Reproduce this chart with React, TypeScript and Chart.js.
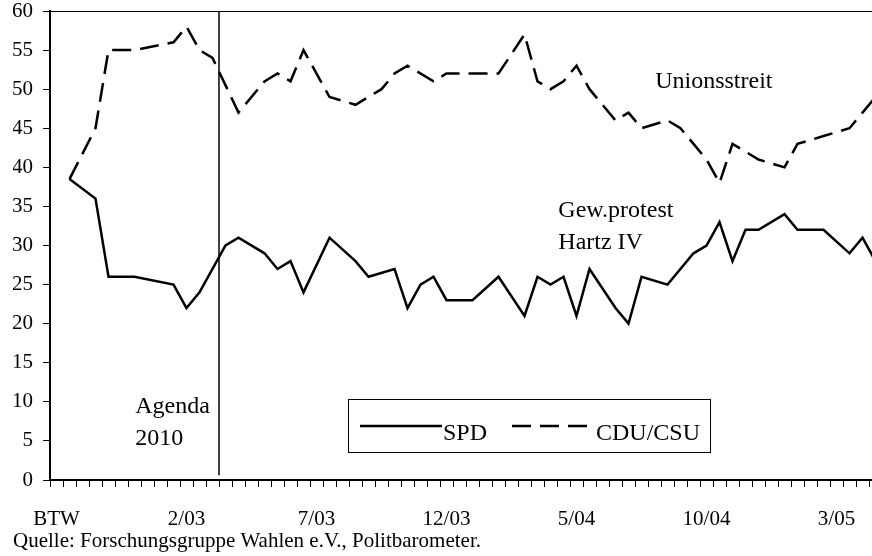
import React, { useEffect, useRef } from "react";
import { Chart, registerables } from "chart.js";

Chart.register(...registerables);

const FONT = "'Liberation Serif', 'Times New Roman', Times, serif";

// One category per poll month; index 0 = BTW (Sept. 2002)
const categoryCount = 64;
const xLabelEvery = 10;
const xTickLabels = ["BTW", "2/03", "7/03", "12/03", "5/04", "10/04", "3/05"];
const yMin = 0;
const yMax = 60;
const yStep = 5;
const visibleCategories = 63.23;

const spdValues: (number | null)[] = [
  null, 38.5, null, 36, 26, null, 26, null, null, 25,
  22, 24, null, 30, 31, null, 29, 27, 28, 24,
  null, 31, null, 28, 26, null, 27, 22, 25, 26,
  23, null, 23, null, 26, null, 21, 26, 25, 26,
  21, 27, null, 22, 20, 26, null, 25, null, 29,
  30, 33, 28, 32, 32, null, 34, 32, null, 32,
  null, 29, 31, 28,
];

const cduValues: (number | null)[] = [
  null, 38.5, null, 45, 55, null, 55, null, null, 56,
  58, 55, 54, null, 47, null, 51, 52, 51, 55,
  null, 49, null, 48, 49, 50, 52, 53, null, 51,
  52, 52, 52, 52, 52, null, 57, 51, 50, 51,
  53, 50, 48, 46, 47, 45, null, 46, 45, 43,
  41, 38, 43, 42, 41, null, 40, 43, null, 44,
  null, 45, 47, 49,
];

const seriesNames = ["SPD", "CDU/CSU"];
const sourceText = "Quelle: Forschungsgruppe Wahlen e.V., Politbarometer.";

// Agenda 2010 marker (on a month boundary) and text notes, in axis units
const agendaMarker = 13;
const agendaLineEnd = 0.6;
const notes = [
  { text: "Agenda", x: 6.55, y: 8.57 },
  { text: "2010", x: 6.55, y: 4.48 },
  { text: "Gew.protest", x: 39.1, y: 33.6 },
  { text: "Hartz IV", x: 39.1, y: 29.5 },
  { text: "Unionsstreit", x: 46.55, y: 50.2 },
];

const legendBox = { left: 348, top: 399.5, width: 362, height: 53, lineY: 426, textY: 440 };
const legendItems = [
  { sampleStart: 360, sampleEnd: 442, textX: 443 },
  { sampleStart: 512, sampleEnd: 587, textX: 596 },
];

const toPoints = (vals: (number | null)[]) =>
  vals.map((v, i) => ({ x: i + 0.5, y: v }));

const decorPlugin = {
  id: "decor",
  afterDatasetsDraw(chart: any) {
    const { ctx, chartArea, scales } = chart;
    const xs = scales.x;
    const ys = scales.y;
    ctx.save();
    ctx.strokeStyle = "#000";
    ctx.fillStyle = "#000";
    // top frame line
    ctx.lineWidth = 1;
    ctx.setLineDash([]);
    ctx.beginPath();
    ctx.moveTo(chartArea.left, Math.round(chartArea.top) + 0.5);
    ctx.lineTo(chartArea.right, Math.round(chartArea.top) + 0.5);
    ctx.stroke();
    // Agenda 2010 vertical line
    const ax = xs.getPixelForValue(agendaMarker);
    ctx.lineWidth = 1.5;
    ctx.beginPath();
    ctx.moveTo(ax, chartArea.top);
    ctx.lineTo(ax, ys.getPixelForValue(agendaLineEnd));
    ctx.stroke();
    // notes
    ctx.font = `24px ${FONT}`;
    ctx.textAlign = "left";
    ctx.textBaseline = "alphabetic";
    notes.forEach((n) => {
      ctx.fillText(n.text, xs.getPixelForValue(n.x), ys.getPixelForValue(n.y));
    });
    // legend
    ctx.lineWidth = 1;
    ctx.fillStyle = "#fff";
    ctx.fillRect(legendBox.left, legendBox.top, legendBox.width, legendBox.height);
    ctx.strokeRect(legendBox.left + 0.5, legendBox.top, legendBox.width, legendBox.height);
    ctx.fillStyle = "#000";
    chart.data.datasets.forEach((ds: any, i: number) => {
      const it = legendItems[i];
      ctx.lineWidth = ds.borderWidth;
      ctx.setLineDash(ds.borderDash || []);
      ctx.beginPath();
      ctx.moveTo(it.sampleStart, legendBox.lineY);
      ctx.lineTo(it.sampleEnd, legendBox.lineY);
      ctx.stroke();
      ctx.setLineDash([]);
      ctx.fillText(ds.label, it.textX, legendBox.textY);
    });
    ctx.restore();
  },
};

export default function App() {
  const canvasRef = useRef<HTMLCanvasElement | null>(null);

  useEffect(() => {
    if (!canvasRef.current) return;
    const tickFont = { family: FONT, size: 21, lineHeight: 1 };
    const chart = new Chart(canvasRef.current, {
      type: "line",
      data: {
        datasets: [
          {
            label: seriesNames[0],
            data: toPoints(spdValues) as any,
            borderColor: "#000",
            borderWidth: 2.5,
            pointRadius: 0,
            tension: 0,
            spanGaps: true,
            fill: false,
          },
          {
            label: seriesNames[1],
            data: toPoints(cduValues) as any,
            borderColor: "#000",
            borderWidth: 2.5,
            borderDash: [19, 9],
            pointRadius: 0,
            tension: 0,
            spanGaps: true,
            fill: false,
          },
        ],
      },
      options: {
        animation: false,
        responsive: true,
        maintainAspectRatio: false,
        devicePixelRatio: 1,
        layout: { padding: { left: 13, top: 11, right: 0, bottom: 0 } },
        plugins: {
          legend: { display: false },
          tooltip: { enabled: false },
          title: {
            display: true,
            text: sourceText,
            position: "bottom",
            align: "start",
            color: "#000",
            font: { family: FONT, size: 21, weight: "normal", lineHeight: 1.2 },
            padding: { top: 0, bottom: 2 },
          },
        },
        scales: {
          x: {
            type: "linear",
            min: 0,
            max: visibleCategories,
            afterBuildTicks: (axis: any) => {
              const t = [];
              for (let i = 0; i < categoryCount; i++) t.push({ value: i });
              axis.ticks = t;
            },
            afterFit: (axis: any) => {
              axis.height = 48.8;
              axis.paddingLeft = 0;
              axis.paddingRight = 0;
            },
            grid: {
              display: true,
              drawOnChartArea: false,
              drawTicks: true,
              tickLength: 7,
              color: "#000",
              lineWidth: 1,
            },
            border: { display: true, color: "#000", width: 2 },
            ticks: {
              autoSkip: false,
              maxRotation: 0,
              minRotation: 0,
              padding: 20,
              labelOffset: 6.5,
              color: "#000",
              font: { family: FONT, size: 21, lineHeight: 1.2 },
              callback: (value: any) => {
                const v = Number(value);
                return v % xLabelEvery === 0 ? xTickLabels[v / xLabelEvery] ?? "" : "";
              },
            },
          },
          y: {
            type: "linear",
            min: yMin,
            max: yMax,
            afterFit: (axis: any) => {
              axis.width = 37;
              axis.paddingTop = 0;
              axis.paddingBottom = 0;
            },
            grid: {
              display: true,
              drawOnChartArea: false,
              drawTicks: true,
              tickLength: 7,
              color: "#000",
              lineWidth: 1,
            },
            border: { display: true, color: "#000", width: 2 },
            ticks: {
              stepSize: yStep,
              padding: 10,
              color: "#000",
              font: tickFont,
            },
          },
        },
      },
      plugins: [decorPlugin],
    });
    return () => chart.destroy();
  }, []);

  return (
    <div style={{ position: "fixed", left: 0, top: 0, width: 872, height: 556, background: "#fff" }}>
      <canvas ref={canvasRef} />
    </div>
  );
}
